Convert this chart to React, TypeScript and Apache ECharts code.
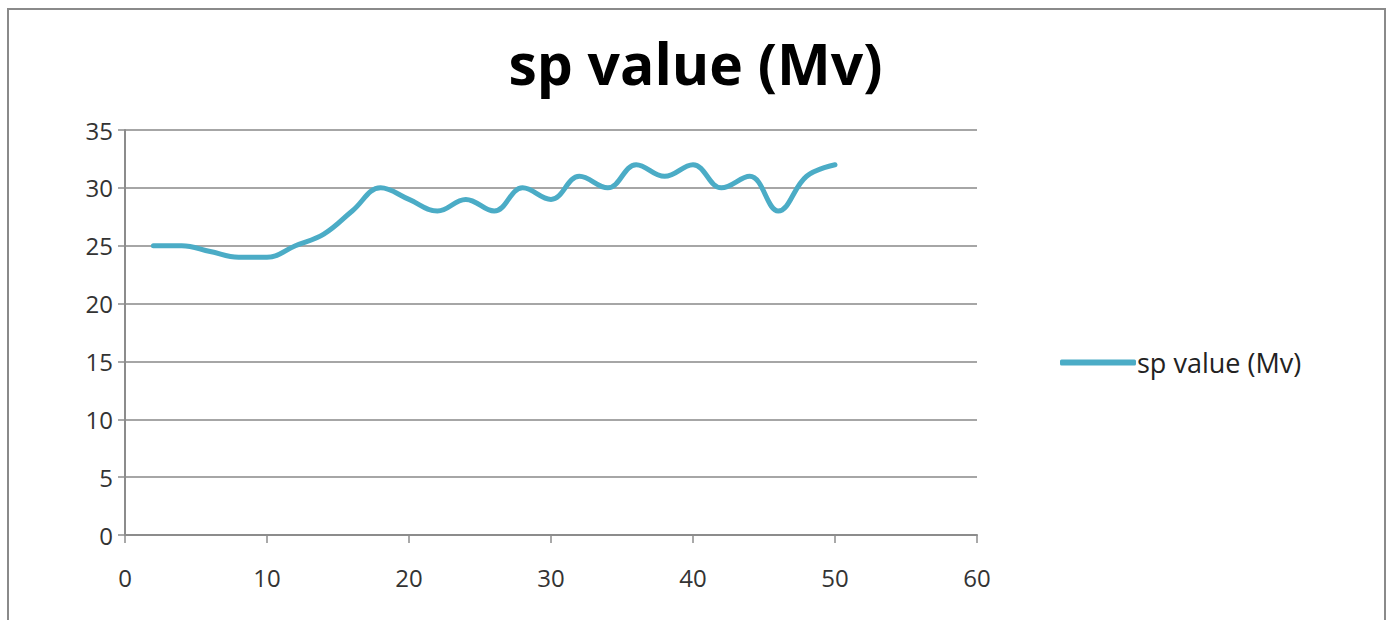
import React, { useEffect, useRef } from "react";
import * as echarts from "echarts";

const xValues = [2, 4, 6, 8, 10, 12, 14, 16, 18, 20, 22, 24, 26, 28, 30, 32, 34, 36, 38, 40, 42, 44, 46, 48, 50];
const spValues = [25, 25, 24.5, 24, 24, 25, 26, 28, 30, 29, 28, 29, 28, 30, 29, 31, 30, 32, 31, 32, 30, 31, 28, 31, 32];
const seriesName = "sp value (Mv)";
const titleText = "sp value (Mv)";

export default function App() {
  const ref = useRef<HTMLDivElement>(null);
  useEffect(() => {
    const chart = echarts.init(ref.current!, null, { renderer: "svg" });
    const font = "Open Sans";
    chart.setOption({
      animation: false,
      backgroundColor: "#ffffff",
      title: {
        text: titleText,
        left: "center",
        top: 29,
        textStyle: { fontFamily: font, fontWeight: "bold", fontSize: 57, color: "#000" },
      },
      legend: {
        left: 1055,
        top: 344,
        itemWidth: 76,
        itemHeight: 6,
        itemGap: 6,
        icon: "roundRect",
        data: [seriesName],
        textStyle: { fontFamily: font, fontSize: 27, color: "#222", padding: [0, 0, 0, -4] },
      },
      graphic: [
        {
          type: "rect",
          shape: { x: 8, y: 9, width: 1377, height: 640 },
          style: { fill: "none", stroke: "#8a8a8a", lineWidth: 2 },
          silent: true,
        },
      ],
      grid: { left: 125, right: 414, top: 130, bottom: 85, containLabel: false },
      xAxis: {
        type: "value",
        min: 0,
        max: 60,
        interval: 10,
        axisLine: { lineStyle: { color: "#8c8c8c", width: 2 } },
        axisTick: { show: true, length: 8, lineStyle: { color: "#8c8c8c", width: 1.5 } },
        splitLine: { show: false },
        axisLabel: { fontFamily: font, fontSize: 24, color: "#333", margin: 30 },
      },
      yAxis: {
        type: "value",
        min: 0,
        max: 35,
        interval: 5,
        axisLine: { show: true, lineStyle: { color: "#8c8c8c", width: 2 } },
        axisTick: { show: true, length: 7, lineStyle: { color: "#8c8c8c", width: 1.5 } },
        splitLine: { show: true, lineStyle: { color: "#a6a6a6", width: 2 } },
        axisLabel: { fontFamily: font, fontSize: 24, color: "#333", margin: 12 },
      },
      series: [
        {
          name: seriesName,
          type: "line",
          data: xValues.map((x, i) => [x, spValues[i]]),
          smooth: 0.4,
          showSymbol: false,
          symbol: "none",
          lineStyle: { color: "#4bacc6", width: 5, cap: "round" },
          itemStyle: { color: "#4bacc6" },
        },
      ],
    });
    return () => chart.dispose();
  }, []);
  return (
    <div
      ref={ref}
      style={{ position: "fixed", left: 0, top: 0, width: 1391, height: 620 }}
    />
  );
}
